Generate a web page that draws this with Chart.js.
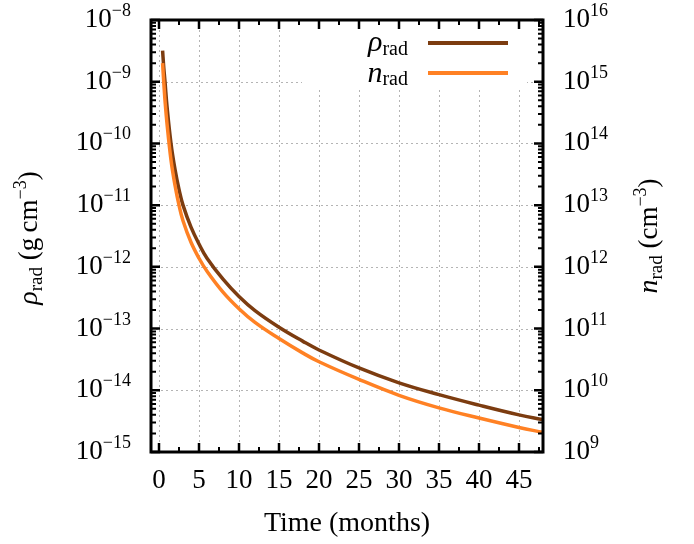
<!DOCTYPE html>
<html>
<head>
<meta charset="utf-8">
<script src="https://cdn.jsdelivr.net/npm/chart.js@4"></script>
<style>
  html, body { margin: 0; padding: 0; background: #fff; }
</style>
</head>
<body>
<canvas id="radChart" width="694" height="544"></canvas>
<script>
// time (months) and the two curves
const months = [0.45, 0.6, 0.75, 1, 1.5, 2, 2.5, 3, 4, 5, 6, 8, 10, 12, 15, 18, 20, 25, 30, 35, 40, 45, 48];
// radiation energy density, g cm^-3 (left axis)
const rhoRad = [3.2e-9, 1.66e-9, 1.0e-9, 4.0e-10, 1.0e-10, 3.8e-11, 1.8e-11, 1.0e-11, 4.4e-12, 2.35e-12, 1.38e-12,
  6.3e-13, 3.3e-13, 1.95e-13, 1.05e-13, 6.2e-14, 4.5e-14, 2.3e-14, 1.32e-14, 8.5e-15, 5.75e-15, 4.0e-15, 3.35e-15];
// photon number density, cm^-3 (right axis)
const nRad = [2.0e15, 9.5e14, 5.0e14, 2.1e14, 5.4e13, 2.1e13, 1.0e13, 5.6e12, 2.5e12, 1.38e12, 8.5e11,
  3.9e11, 2.1e11, 1.26e11, 6.9e10, 4.0e10, 2.9e10, 1.5e10, 8.3e9, 5.2e9, 3.55e9, 2.5e9, 2.08e9];

// axis ticks
const xTicks = [0, 5, 10, 15, 20, 25, 30, 35, 40, 45];
const xMinorTicks = [2.5, 7.5, 12.5, 17.5, 22.5, 27.5, 32.5, 37.5, 42.5, 47.5];
const leftExps = [-8, -9, -10, -11, -12, -13, -14, -15];
const rightExps = [16, 15, 14, 13, 12, 11, 10, 9];

const SERIF = '"Liberation Serif", "DejaVu Serif", serif';
const brown = '#7c3c10';
const orange = '#ff8124';

// draw a run of text pieces (for super/subscripts)
function drawRich(ctx, parts, x, y, align) {
  let w = 0;
  parts.forEach(p => { ctx.font = p.font; w += ctx.measureText(p.text).width; });
  let cx = align === 'right' ? x - w : align === 'center' ? x - w / 2 : x;
  ctx.textAlign = 'left';
  ctx.textBaseline = 'alphabetic';
  parts.forEach(p => {
    ctx.font = p.font;
    ctx.fillText(p.text, cx, y + (p.dy || 0));
    cx += ctx.measureText(p.text).width;
  });
}

function power(exp) {
  const s = String(exp).replace('-', '\u2212');
  return [
    { text: '10', font: '27px ' + SERIF },
    { text: s, font: '18px ' + SERIF, dy: -11 }
  ];
}

const framePlugin = {
  id: 'frame',
  beforeDatasetsDraw(chart) {
    const ctx = chart.ctx;
    const a = chart.chartArea;
    const xs = chart.scales.x, ys = chart.scales.y;
    ctx.save();
    ctx.strokeStyle = '#b4b4b4';
    ctx.lineWidth = 1;
    ctx.setLineDash([2, 3]);
    xTicks.forEach(v => {
      const px = Math.round(xs.getPixelForValue(v)) + 0.5;
      ctx.beginPath(); ctx.moveTo(px, a.top); ctx.lineTo(px, a.bottom); ctx.stroke();
    });
    leftExps.forEach(e => {
      const py = Math.round(ys.getPixelForValue(Math.pow(10, e))) + 0.5;
      ctx.beginPath(); ctx.moveTo(a.left, py); ctx.lineTo(a.right, py); ctx.stroke();
    });
    ctx.setLineDash([]);
    // legend background
    ctx.fillStyle = '#fff';
    ctx.fillRect(302, a.top + 1, 225, 68);
    ctx.restore();
  },
  afterDatasetsDraw(chart) {
    const ctx = chart.ctx;
    const a = chart.chartArea;
    const xs = chart.scales.x, ys = chart.scales.y, y2 = chart.scales.y2;
    ctx.save();
    ctx.strokeStyle = '#000';
    ctx.fillStyle = '#000';

    // ticks on all four sides
    ctx.lineWidth = 2.5;
    xTicks.forEach(v => {
      const px = xs.getPixelForValue(v);
      ctx.beginPath();
      ctx.moveTo(px, a.bottom); ctx.lineTo(px, a.bottom - 9);
      ctx.moveTo(px, a.top); ctx.lineTo(px, a.top + 9);
      ctx.stroke();
    });
    leftExps.forEach(e => {
      const py = ys.getPixelForValue(Math.pow(10, e));
      ctx.beginPath();
      ctx.moveTo(a.left, py); ctx.lineTo(a.left + 9, py);
      ctx.moveTo(a.right, py); ctx.lineTo(a.right - 9, py);
      ctx.stroke();
    });
    ctx.lineWidth = 2;
    xMinorTicks.forEach(v => {
      const px = xs.getPixelForValue(v);
      ctx.beginPath();
      ctx.moveTo(px, a.bottom); ctx.lineTo(px, a.bottom - 5);
      ctx.moveTo(px, a.top); ctx.lineTo(px, a.top + 5);
      ctx.stroke();
    });
    for (let e = -15; e < -8; e++) {
      for (let k = 2; k <= 9; k++) {
        const py = ys.getPixelForValue(k * Math.pow(10, e));
        const pr = y2.getPixelForValue(k * Math.pow(10, e + 24));
        ctx.beginPath();
        ctx.moveTo(a.left, py); ctx.lineTo(a.left + 5, py);
        ctx.moveTo(a.right, pr); ctx.lineTo(a.right - 5, pr);
        ctx.stroke();
      }
    }

    // frame
    ctx.lineWidth = 3;
    ctx.strokeRect(a.left, a.top, a.right - a.left, a.bottom - a.top);

    // tick labels
    leftExps.forEach(e => {
      const py = ys.getPixelForValue(Math.pow(10, e));
      drawRich(ctx, power(e), 131, py + 7, 'right');
    });
    rightExps.forEach(e => {
      const py = y2.getPixelForValue(Math.pow(10, e));
      drawRich(ctx, power(e), 563, py + 7, 'left');
    });
    ctx.font = '27px ' + SERIF;
    ctx.textAlign = 'center';
    ctx.textBaseline = 'alphabetic';
    xTicks.forEach(v => {
      ctx.fillText(String(v), xs.getPixelForValue(v), 488);
    });

    // axis titles
    drawRich(ctx, [{ text: 'Time (months)', font: '28px ' + SERIF }], (a.left + a.right) / 2, 531, 'center');

    ctx.save();
    ctx.translate(37, 238);
    ctx.rotate(-Math.PI / 2);
    drawRich(ctx, [
      { text: '\u03c1', font: 'italic 28px ' + SERIF },
      { text: 'rad', font: '19px ' + SERIF, dy: 5 },
      { text: ' (g\u2009cm', font: '27px ' + SERIF },
      { text: '\u22123', font: '18px ' + SERIF, dy: -11 },
      { text: ')', font: '27px ' + SERIF }
    ], 0, 0, 'center');
    ctx.restore();

    ctx.save();
    ctx.translate(657, 236);
    ctx.rotate(-Math.PI / 2);
    drawRich(ctx, [
      { text: 'n', font: 'italic 28px ' + SERIF },
      { text: 'rad', font: '19px ' + SERIF, dy: 5 },
      { text: ' (cm', font: '27px ' + SERIF },
      { text: '\u22123', font: '18px ' + SERIF, dy: -11 },
      { text: ')', font: '27px ' + SERIF }
    ], 0, 0, 'center');
    ctx.restore();

    // legend
    drawRich(ctx, [
      { text: '\u03c1', font: 'italic 30px ' + SERIF },
      { text: 'rad', font: '20px ' + SERIF, dy: 4 }
    ], 408, 51, 'right');
    drawRich(ctx, [
      { text: 'n', font: 'italic 30px ' + SERIF },
      { text: 'rad', font: '20px ' + SERIF, dy: 3 }
    ], 408, 82, 'right');
    ctx.lineWidth = 4;
    ctx.strokeStyle = brown;
    ctx.beginPath(); ctx.moveTo(428, 43); ctx.lineTo(508, 43); ctx.stroke();
    ctx.strokeStyle = orange;
    ctx.beginPath(); ctx.moveTo(428, 73); ctx.lineTo(508, 73); ctx.stroke();
    ctx.restore();
  }
};

const hiddenAxis = {
  ticks: { display: false },
  grid: { display: false },
  border: { display: false }
};

new Chart(document.getElementById('radChart'), {
  type: 'line',
  data: {
    datasets: [
      {
        label: 'rho_rad',
        data: months.map((m, i) => ({ x: m, y: rhoRad[i] })),
        yAxisID: 'y',
        borderColor: brown,
        borderWidth: 3.5,
        pointRadius: 0,
        tension: 0.4,
        order: 2
      },
      {
        label: 'n_rad',
        data: months.map((m, i) => ({ x: m, y: nRad[i] })),
        yAxisID: 'y2',
        borderColor: orange,
        borderWidth: 3.5,
        pointRadius: 0,
        tension: 0.4,
        order: 1
      }
    ]
  },
  options: {
    responsive: false,
    animation: false,
    layout: { padding: { top: 20 } },
    plugins: { legend: { display: false }, tooltip: { enabled: false } },
    scales: {
      x: Object.assign({ type: 'linear', min: -1, max: 48, afterFit: s => { s.height = 92; } }, hiddenAxis),
      y: Object.assign({ type: 'logarithmic', position: 'left', min: 1e-15, max: 1e-8, afterFit: s => { s.width = 151; } }, hiddenAxis),
      y2: Object.assign({ type: 'logarithmic', position: 'right', min: 1e9, max: 1e16, afterFit: s => { s.width = 151; } }, hiddenAxis)
    }
  },
  plugins: [framePlugin]
});
</script>
</body>
</html>
